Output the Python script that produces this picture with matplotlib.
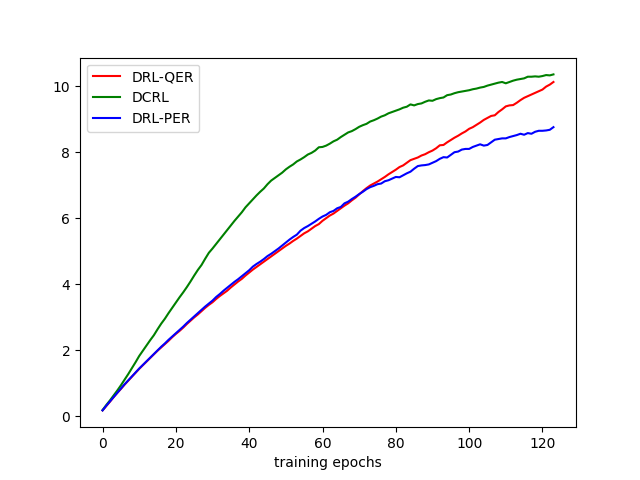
import numpy as np
import matplotlib
matplotlib.use("Agg")
import matplotlib.pyplot as plt

# values, one per training epoch (0..123)
dcrl = [
    0.18, 0.33, 0.47, 0.62, 0.77, 0.93, 1.10, 1.27, 1.45, 1.63,
    1.82, 1.98, 2.14, 2.30, 2.45, 2.63, 2.80, 2.95, 3.12, 3.28,
    3.44, 3.60, 3.75, 3.91, 4.08, 4.26, 4.43, 4.58, 4.77, 4.95,
    5.08, 5.22, 5.36, 5.50, 5.64, 5.78, 5.92, 6.05, 6.18, 6.33,
    6.45, 6.57, 6.69, 6.80, 6.90, 7.03, 7.14, 7.22, 7.30, 7.38,
    7.48, 7.56, 7.63, 7.72, 7.78, 7.85, 7.93, 7.98, 8.05, 8.15,
    8.16, 8.20, 8.26, 8.33, 8.38, 8.46, 8.53, 8.60, 8.64, 8.70,
    8.77, 8.82, 8.86, 8.93, 8.97, 9.02, 9.08, 9.12, 9.18, 9.22,
    9.26, 9.30, 9.35, 9.38, 9.45, 9.42, 9.46, 9.48, 9.53, 9.57,
    9.56, 9.61, 9.64, 9.66, 9.73, 9.75, 9.79, 9.82, 9.84, 9.86,
    9.88, 9.91, 9.93, 9.96, 9.98, 10.02, 10.05, 10.08, 10.11, 10.13,
    10.09, 10.13, 10.17, 10.20, 10.22, 10.24, 10.29, 10.29, 10.30, 10.29,
    10.31, 10.34, 10.33, 10.36,
]

drl_qer = [
    0.17, 0.30, 0.43, 0.57, 0.70, 0.82, 0.95, 1.07, 1.19, 1.31,
    1.43, 1.54, 1.65, 1.76, 1.87, 1.98, 2.08, 2.18, 2.28, 2.39,
    2.49, 2.58, 2.68, 2.79, 2.89, 2.99, 3.08, 3.18, 3.28, 3.37,
    3.45, 3.55, 3.64, 3.72, 3.80, 3.90, 3.99, 4.08, 4.16, 4.26,
    4.35, 4.44, 4.52, 4.60, 4.68, 4.76, 4.84, 4.92, 5.00, 5.08,
    5.16, 5.23, 5.31, 5.38, 5.46, 5.54, 5.60, 5.68, 5.76, 5.82,
    5.92, 6.00, 6.08, 6.14, 6.22, 6.30, 6.38, 6.45, 6.54, 6.62,
    6.72, 6.82, 6.91, 6.99, 7.05, 7.11, 7.18, 7.25, 7.33, 7.40,
    7.47, 7.55, 7.60, 7.68, 7.76, 7.80, 7.84, 7.90, 7.94, 8.00,
    8.05, 8.12, 8.21, 8.22, 8.30, 8.37, 8.44, 8.50, 8.57, 8.63,
    8.71, 8.76, 8.83, 8.90, 8.98, 9.04, 9.10, 9.12, 9.22, 9.30,
    9.39, 9.42, 9.43, 9.50, 9.58, 9.65, 9.70, 9.75, 9.80, 9.85,
    9.90, 9.99, 10.05, 10.13,
]

drl_per = [
    0.17, 0.31, 0.44, 0.57, 0.70, 0.83, 0.96, 1.08, 1.20, 1.32,
    1.44, 1.55, 1.66, 1.77, 1.88, 1.99, 2.10, 2.20, 2.31, 2.41,
    2.51, 2.61, 2.71, 2.82, 2.92, 3.02, 3.12, 3.22, 3.32, 3.41,
    3.50, 3.61, 3.70, 3.80, 3.89, 3.98, 4.07, 4.15, 4.24, 4.33,
    4.42, 4.53, 4.61, 4.68, 4.76, 4.85, 4.92, 5.00, 5.08, 5.17,
    5.26, 5.35, 5.43, 5.50, 5.62, 5.70, 5.76, 5.83, 5.90, 5.98,
    6.05, 6.10, 6.18, 6.22, 6.30, 6.34, 6.45, 6.50, 6.58, 6.65,
    6.73, 6.80, 6.88, 6.94, 6.98, 7.03, 7.05, 7.12, 7.15, 7.20,
    7.25, 7.24, 7.30, 7.36, 7.41, 7.50, 7.58, 7.60, 7.61, 7.63,
    7.68, 7.73, 7.80, 7.85, 7.84, 7.92, 8.00, 8.02, 8.08, 8.10,
    8.10, 8.16, 8.20, 8.24, 8.20, 8.22, 8.30, 8.38, 8.40, 8.42,
    8.42, 8.46, 8.49, 8.52, 8.56, 8.53, 8.58, 8.56, 8.62, 8.65,
    8.65, 8.66, 8.68, 8.76,
]

epochs = np.arange(len(dcrl))

plt.figure(figsize=(6.4, 4.8))
plt.plot(epochs, drl_qer, color='red', label="DRL-QER")
plt.plot(epochs, dcrl, color='green', label="DCRL")
plt.plot(epochs, drl_per, color='blue', label="DRL-PER")
plt.xlabel("training epochs")
plt.legend(loc='upper left')
plt.savefig("out.png", dpi=100)
